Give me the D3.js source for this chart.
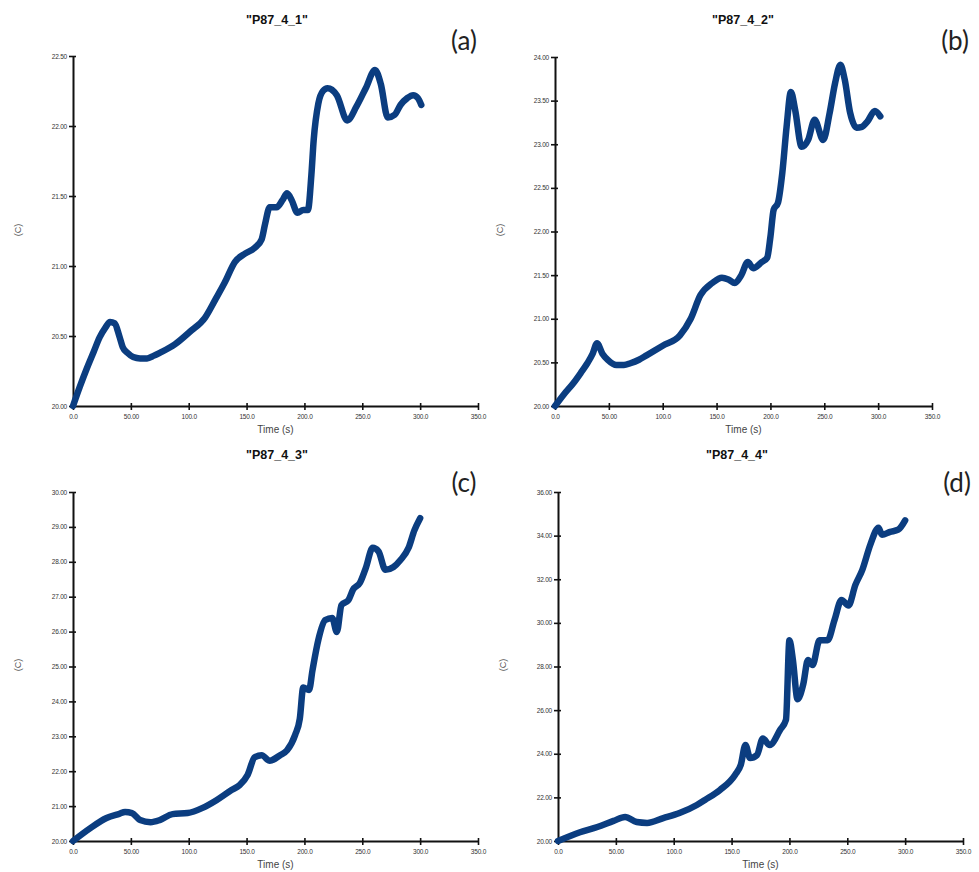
<!DOCTYPE html>
<html><head><meta charset="utf-8">
<script src="https://cdn.jsdelivr.net/npm/d3@7"></script>
<style>body{margin:0;background:#fff}svg{display:block}</style>
</head><body>
<svg id="chart" width="979" height="872"></svg>
<script>
// Shared time axis
const xTickValues = [0, 50, 100, 150, 200, 250, 300, 350];
const xTickLabels = ["0.0", "50.00", "100.0", "150.0", "200.0", "250.0", "300.0", "350.0"];

// Panel labels
const titles = ['"P87_4_1"', '"P87_4_2"', '"P87_4_3"', '"P87_4_4"'];
const panelTags = ["(a)", "(b)", "(c)", "(d)"];

// Temperature tick values per probe
const yTicksA = [20, 20.5, 21, 21.5, 22, 22.5];
const yTicksB = [20, 20.5, 21, 21.5, 22, 22.5, 23, 23.5, 24];
const yTicksC = [20, 21, 22, 23, 24, 25, 26, 27, 28, 29, 30];
const yTicksD = [20, 22, 24, 26, 28, 30, 32, 34, 36];

// Probe P87_4_1
const timeA = [0, 6, 12, 18, 23, 28, 32, 36, 40, 43, 47, 52, 58, 64, 70, 75, 88, 101, 114, 123, 131, 140, 149, 157, 163, 166, 170, 176, 181, 185, 189, 194, 199, 203, 206, 208, 212, 216, 220, 228, 237, 245, 253, 261, 266, 272, 278, 283, 289, 294, 298, 301];
const tempA = [20, 20.14, 20.27, 20.39, 20.49, 20.56, 20.6, 20.59, 20.5, 20.42, 20.38, 20.35, 20.34, 20.34, 20.36, 20.38, 20.44, 20.53, 20.63, 20.76, 20.88, 21.03, 21.09, 21.13, 21.19, 21.3, 21.42, 21.42, 21.47, 21.52, 21.47, 21.38, 21.4, 21.4, 21.65, 21.9, 22.16, 22.25, 22.27, 22.22, 22.04, 22.14, 22.27, 22.4, 22.3, 22.06, 22.08, 22.15, 22.2, 22.22, 22.2, 22.15];

// Probe P87_4_2
const timeB = [0, 8, 17, 24, 30, 35, 39, 44, 49, 57, 64, 70, 78, 85, 100, 116, 126, 135, 146, 155, 161, 167, 173, 179, 184, 192, 197, 200, 203, 207, 211, 215, 219, 223, 229, 235, 241, 249, 255, 260, 265, 269, 274, 280, 285, 290, 297, 302];
const tempB = [20, 20.13, 20.26, 20.38, 20.49, 20.6, 20.72, 20.6, 20.53, 20.47, 20.47, 20.49, 20.53, 20.58, 20.69, 20.81, 21.0, 21.27, 21.41, 21.47, 21.45, 21.41, 21.5, 21.65, 21.58, 21.65, 21.7, 21.94, 22.25, 22.33, 22.67, 23.2, 23.6, 23.39, 22.97, 23.05, 23.28, 23.05, 23.36, 23.7, 23.91, 23.74, 23.36, 23.19, 23.2, 23.26, 23.38, 23.32];

// Probe P87_4_3
const timeC = [0, 15, 29, 40, 45, 51, 58, 67, 75, 86, 99, 112, 124, 137, 144, 151, 157, 163, 170, 179, 185, 192, 196, 199, 204, 207, 212, 218, 224, 228, 232, 238, 242, 248, 253, 259, 264, 270, 277, 283, 290, 295, 300];
const tempC = [20, 20.37, 20.66, 20.78, 20.83, 20.8, 20.6, 20.54, 20.6, 20.77, 20.8, 20.95, 21.17, 21.46, 21.6, 21.9, 22.4, 22.46, 22.3, 22.46, 22.6, 23.04, 23.5, 24.4, 24.33, 24.9, 25.76, 26.33, 26.39, 25.99, 26.76, 26.9, 27.2, 27.4, 27.82, 28.4, 28.3, 27.77, 27.85, 28.05, 28.4, 28.9, 29.25];

// Probe P87_4_4
const timeD = [0, 19, 34, 48, 58, 68, 77, 91, 105, 120, 127, 140, 153, 158, 162, 166, 172, 177, 183, 192, 197, 200, 203, 207, 212, 216, 220, 226, 233, 239, 245, 251, 257, 263, 270, 277, 280, 287, 294, 300];
const tempD = [20, 20.4, 20.64, 20.92, 21.1, 20.87, 20.83, 21.05, 21.28, 21.65, 21.88, 22.34, 23.03, 23.5, 24.4, 23.8, 23.94, 24.7, 24.4, 25.1, 25.55, 29.2, 28.3, 26.5, 27.2, 28.3, 28.07, 29.2, 29.2, 30.14, 31.05, 30.8, 31.74, 32.43, 33.6, 34.36, 34.04, 34.17, 34.27, 34.7];

const series = [
  { time: timeA, temp: tempA, yTicks: yTicksA },
  { time: timeB, temp: tempB, yTicks: yTicksB },
  { time: timeC, temp: tempC, yTicks: yTicksC },
  { time: timeD, temp: tempD, yTicks: yTicksD }
];

// Plot frames (pixel placement of each sub-chart)
const frames = [
  { x0: 73,  x1: 478, yb: 406, yt: 56,  title: [277, 24],  tag: [464, 40],  ylab: [18, 230],  xlab: 433 },
  { x0: 555, x1: 932, yb: 406, yt: 57,  title: [743, 24],  tag: [955, 40],  ylab: [500, 230], xlab: 433 },
  { x0: 73,  x1: 478, yb: 841, yt: 492, title: [277, 459], tag: [464, 482], ylab: [18, 665],  xlab: 868 },
  { x0: 558, x1: 963, yb: 841, yt: 492, title: [737, 459], tag: [957, 482], ylab: [503, 665], xlab: 868 }
];

const svg = d3.select("#chart");
const lineColor = "#0b3d80";

series.forEach((s, i) => {
  const f = frames[i];
  const yMin = d3.min(s.yTicks), yMax = d3.max(s.yTicks);
  const x = d3.scaleLinear().domain([0, 350]).range([f.x0, f.x1]);
  const y = d3.scaleLinear().domain([yMin, yMax]).range([f.yb, f.yt]);
  const g = svg.append("g");

  // y axis
  const yAxis = d3.axisLeft(y).tickValues(s.yTicks).tickFormat(d3.format(".2f")).tickSizeInner(4).tickSizeOuter(0);
  const ya = g.append("g").attr("transform", `translate(${f.x0},0)`).call(yAxis);
  ya.select(".domain").attr("stroke", "#111").attr("stroke-width", 2);
  ya.selectAll(".tick line").attr("stroke", "#111").attr("stroke-width", 1.6).attr("x2", -4).attr("x1", 3);
  ya.selectAll(".tick text").attr("x", -6).attr("font-family", "Liberation Sans, Arial, sans-serif")
    .attr("font-size", 6.5).attr("fill", "#333").attr("letter-spacing", -0.2);

  // x axis
  const xAxis = d3.axisBottom(x).tickValues(xTickValues).tickFormat((d, k) => xTickLabels[k]).tickSizeInner(4).tickSizeOuter(0);
  const xa = g.append("g").attr("transform", `translate(0,${f.yb})`).call(xAxis);
  xa.select(".domain").attr("stroke", "#111").attr("stroke-width", 2);
  xa.selectAll(".tick line").attr("stroke", "#111").attr("stroke-width", 1.6).attr("y1", -3).attr("y2", 4);
  xa.selectAll(".tick text").attr("y", 8).attr("font-family", "Liberation Sans, Arial, sans-serif")
    .attr("font-size", 6.5).attr("fill", "#333").attr("letter-spacing", -0.2);

  // temperature trace
  const pts = s.time.map((t, k) => [t, s.temp[k]]);
  g.append("path").datum(pts)
    .attr("fill", "none").attr("stroke", lineColor).attr("stroke-width", 6.5)
    .attr("stroke-linecap", "round").attr("stroke-linejoin", "round")
    .attr("d", d3.line().x(d => x(d[0])).y(d => y(d[1])).curve(d3.curveMonotoneX));

  // labels
  g.append("text").attr("x", f.title[0]).attr("y", f.title[1]).attr("text-anchor", "middle")
    .attr("font-family", "Liberation Sans, Arial, sans-serif").attr("font-weight", "bold")
    .attr("font-size", 12.5).attr("fill", "#111").text(titles[i]);
  g.append("text").attr("x", f.tag[0]).attr("y", f.tag[1]).attr("text-anchor", "middle")
    .attr("dominant-baseline", "central")
    .attr("font-family", "Lato, Open Sans, sans-serif").attr("font-size", 26).attr("fill", "#222").text(panelTags[i]);
  g.append("text").attr("transform", `translate(${f.ylab[0]},${f.ylab[1]}) rotate(-90)`)
    .attr("text-anchor", "middle").attr("dominant-baseline", "central")
    .attr("font-family", "Liberation Sans, Arial, sans-serif").attr("font-size", 9).attr("fill", "#555").text("(C)");
  g.append("text").attr("x", (f.x0 + f.x1) / 2).attr("y", f.xlab).attr("text-anchor", "middle")
    .attr("font-family", "Liberation Sans, Arial, sans-serif").attr("font-size", 10).attr("fill", "#444").text("Time (s)");
});
</script>
</body></html>
